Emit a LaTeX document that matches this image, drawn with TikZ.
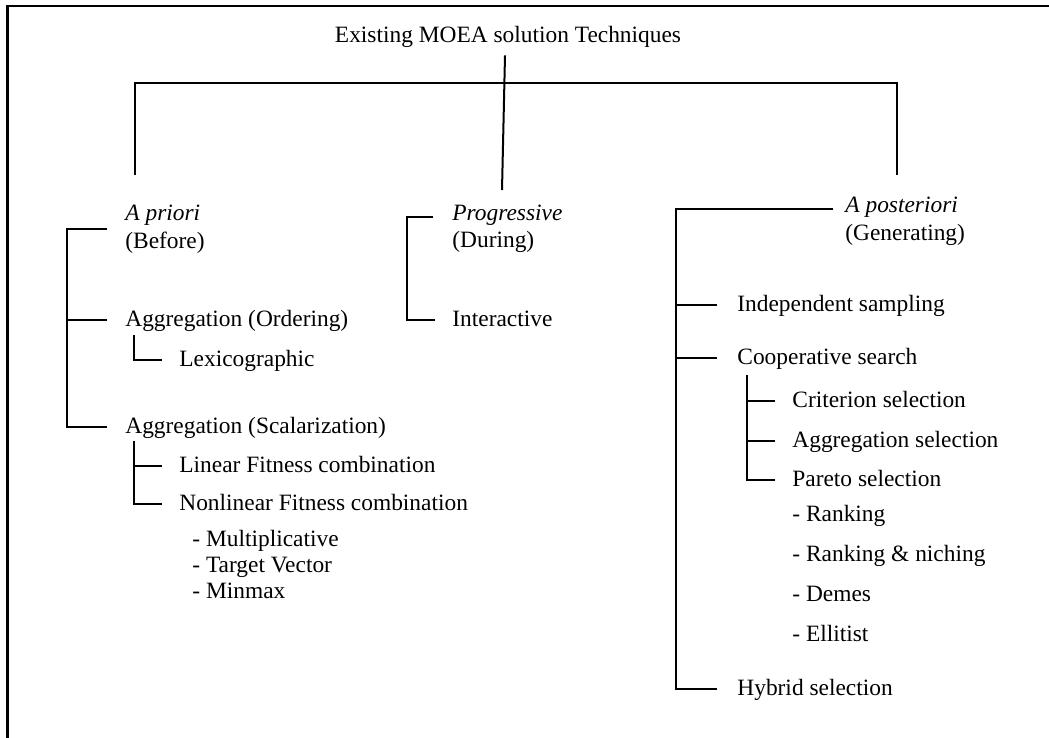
\documentclass[tikz,border=0pt]{standalone}
\usepackage{fontspec}
\setmainfont{Liberation Serif}
\usetikzlibrary{positioning}

\begin{document}
\begin{tikzpicture}[x=0.5pt,y=-0.5pt,
  font=\fontsize{11.7}{13.5}\selectfont,
  lbl/.style={anchor=base west, inner sep=0pt, text height=8.2pt, text depth=2.5pt},
  head/.style={anchor=base west, inner sep=0pt, align=left},
  tree/.style={line width=1pt},
  frame/.style={line width=1.3pt}]

\useasboundingbox (0,0) rectangle (1049,738);
\draw[frame] (1049,6) -- (7.5,6) -- (7.5,738);

% define the title and the three main branches
  \node[anchor=base, inner sep=0pt] (title) at (508,43) {Existing MOEA solution Techniques};
  \coordinate (lbar) at (135,175);
  \coordinate (mbar) at (502,190);
  \coordinate (rbar) at (897,175);
  \draw[tree] (lbar) -- ++(0,-92) -| (rbar);
  \draw[tree] (title.south) ++(-3,7) -- (mbar);

% define the a priori branch
  \node[head] (apriori)   at (125,248) {\textit{A priori}\\(Before)};
  \node[lbl]  (ordering)  at (125,326) {Aggregation (Ordering)};
  \node[lbl]  (lexico)    at (179,366) {Lexicographic};
  \node[lbl]  (scalar)    at (125,433) {Aggregation (Scalarization)};
  \node[lbl]  (linear)    at (179,472) {Linear Fitness combination};
  \node[lbl]  (nonlinear) at (179,510) {Nonlinear Fitness combination};
  \node[head, font=\fontsize{11.7}{13}\selectfont] (nlkinds) at (192,598)
    {- Multiplicative\\- Target Vector\\- Minmax};

  \draw[tree] ([xshift=-9pt]apriori.west) -- ++(-40,0) |- ([xshift=-9pt]scalar.west);
  \draw[tree] ([xshift=-29pt]ordering.west) -- ([xshift=-9pt]ordering.west);
  \draw[tree] ([xshift=4.5pt,yshift=-2pt]ordering.south west) |- ([xshift=-8.5pt]lexico.west);
  \draw[tree] ([xshift=4.5pt,yshift=-1.5pt]scalar.south west) |- ([xshift=-8.5pt]nonlinear.west);
  \draw[tree] ([xshift=-22.5pt]linear.west) -- ([xshift=-8.5pt]linear.west);

% define the progressive branch
  \node[head] (progressive) at (452,247) {\textit{Progressive}\\(During)};
  \node[lbl]  (interactive) at (452,326) {Interactive};

  \draw[tree] ([xshift=-9.5pt,yshift=5.5pt]progressive.west) -- ++(-26,0) |- ([xshift=-8.5pt]interactive.west);

% define the a posteriori branch
  \node[head] (aposteriori) at (845,240) {\textit{A posteriori}\\(Generating)};
  \node[lbl]  (indep)     at (737,311) {Independent sampling};
  \node[lbl]  (coop)      at (737,364) {Cooperative search};
  \node[lbl]  (criterion) at (792,407) {Criterion selection};
  \node[lbl]  (aggsel)    at (792,447) {Aggregation selection};
  \node[lbl]  (pareto)    at (792,486) {Pareto selection};
  \node[lbl]  (ranking)   at (792,521) {- Ranking};
  \node[lbl]  (niching)   [below=20pt of ranking.base west, anchor=base west] {- Ranking \& niching};
  \node[lbl]  (demes)     [below=20pt of niching.base west, anchor=base west] {- Demes};
  \node[lbl]  (elitist)   [below=20pt of demes.base west, anchor=base west] {- Ellitist};
  \node[lbl]  (hybrid)    at (737,695) {Hybrid selection};

  \draw[tree] ([xshift=-6pt,yshift=6pt]aposteriori.west) -- ++(-157,0) |- ([xshift=-10pt]hybrid.west);
  \draw[tree] ([xshift=-30.5pt]indep.west) -- ([xshift=-10pt]indep.west);
  \draw[tree] ([xshift=-30.5pt]coop.west) -- ([xshift=-10pt]coop.west);
  \draw[tree] ([xshift=5pt,yshift=-3pt]coop.south west) |- ([xshift=-8.5pt]pareto.west);
  \draw[tree] ([xshift=-22.5pt]criterion.west) -- ([xshift=-8.5pt]criterion.west);
  \draw[tree] ([xshift=-22.5pt]aggsel.west) -- ([xshift=-8.5pt]aggsel.west);

\end{tikzpicture}
\end{document}
